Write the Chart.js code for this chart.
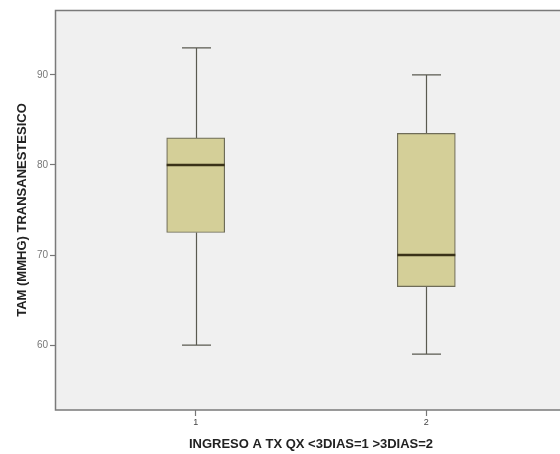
<!DOCTYPE html>
<html>
<head>
<meta charset="utf-8">
<script src="https://cdn.jsdelivr.net/npm/chart.js@4/dist/chart.umd.min.js"></script>
<style>
  html, body { margin: 0; padding: 0; background: #fff; overflow: hidden; }
  #wrap { width: 580px; height: 454px; }
</style>
</head>
<body>
<div id="wrap"><canvas id="chart" width="580" height="454"></canvas></div>
<script>
// Box plot values per group
const groups = ['1', '2'];
const positions = [1, 2];
const mins = [60, 59];
const q1s = [72.5, 66.5];
const medians = [80, 70];
const q3s = [83, 83.5];
const maxs = [93, 90];
const yTicks = [60, 70, 80, 90];

const boxFill = '#d4cf98';
const lineColor = '#5a5a50';

// Plot background and frame
const frame = {
    id: 'frame',
    beforeDraw(chart) {
        const { ctx, chartArea: a } = chart;
        ctx.save();
        ctx.fillStyle = '#f0f0f0';
        ctx.fillRect(a.left, a.top, a.right - a.left, a.bottom - a.top);
        ctx.restore();
    },
    afterDraw(chart) {
        const { ctx, chartArea: a } = chart;
        ctx.save();
        ctx.strokeStyle = '#7a7a7a';
        ctx.lineWidth = 1.5;
        ctx.beginPath();
        ctx.moveTo(a.right, a.top + 0.5);
        ctx.lineTo(a.left + 0.5, a.top + 0.5);
        ctx.lineTo(a.left + 0.5, a.bottom);
        ctx.lineTo(a.right, a.bottom);
        ctx.stroke();
        ctx.restore();
    }
};

// Whiskers, caps and medians drawn through the chart scales
const boxParts = {
    id: 'boxParts',
    beforeDatasetsDraw(chart) {
        const { ctx, scales: { x, y } } = chart;
        ctx.save();
        ctx.strokeStyle = lineColor;
        ctx.lineWidth = 1.2;
        positions.forEach((p, i) => {
            const px = Math.round(x.getPixelForValue(p)) + 0.5;
            const cap = 14.5;
            ctx.beginPath();
            ctx.moveTo(px, y.getPixelForValue(mins[i]));
            ctx.lineTo(px, y.getPixelForValue(q1s[i]));
            ctx.moveTo(px, y.getPixelForValue(q3s[i]));
            ctx.lineTo(px, y.getPixelForValue(maxs[i]));
            ctx.moveTo(px - cap, y.getPixelForValue(mins[i]));
            ctx.lineTo(px + cap, y.getPixelForValue(mins[i]));
            ctx.moveTo(px - cap, y.getPixelForValue(maxs[i]));
            ctx.lineTo(px + cap, y.getPixelForValue(maxs[i]));
            ctx.stroke();
        });
        ctx.restore();
    },
    afterDatasetsDraw(chart) {
        const { ctx, scales: { x, y } } = chart;
        ctx.save();
        ctx.strokeStyle = '#3a3218';
        ctx.lineWidth = 2.5;
        positions.forEach((p, i) => {
            const px = x.getPixelForValue(p);
            const py = y.getPixelForValue(medians[i]);
            ctx.beginPath();
            ctx.moveTo(px - 29, py);
            ctx.lineTo(px + 29, py);
            ctx.stroke();
        });
        ctx.restore();
    }
};

new Chart(document.getElementById('chart'), {
    type: 'bar',
    data: {
        datasets: [{
            data: positions.map((p, i) => ({ x: p, y: [q1s[i], q3s[i]] })),
            backgroundColor: boxFill,
            borderColor: '#6e6c58',
            borderWidth: 1.2,
            borderSkipped: false,
            barThickness: 58
        }]
    },
    options: {
        responsive: false,
        animation: false,
        layout: { padding: { top: 10, right: 13, bottom: 0, left: 0 } },
        plugins: { legend: { display: false }, tooltip: { enabled: false } },
        scales: {
            x: {
                type: 'linear',
                min: 0.39,
                max: 2.61,
                offset: false,
                afterFit: s => { s.height = 44; },
                afterBuildTicks: s => { s.ticks = positions.map(v => ({ value: v })); },
                ticks: {
                    callback: (v, idx) => groups[idx],
                    color: '#444',
                    font: { family: 'Liberation Sans, Arial', size: 9 },
                    padding: 1,
                    maxRotation: 0
                },
                grid: { offset: false, drawOnChartArea: false, tickLength: 6, tickColor: '#777', tickWidth: 1.2 },
                border: { display: false },
                title: {
                    display: true,
                    text: 'INGRESO A TX QX <3DIAS=1 >3DIAS=2',
                    color: '#222',
                    font: { family: 'Liberation Sans, Arial', size: 13, weight: 'bold' },
                    padding: { top: 0, bottom: 2 }
                }
            },
            y: {
                min: 52.8,
                max: 97.2,
                afterFit: s => { s.width = 55; },
                afterBuildTicks: s => { s.ticks = yTicks.map(v => ({ value: v })); },
                ticks: {
                    color: '#777',
                    font: { family: 'Liberation Sans, Arial', size: 10 },
                    padding: 2
                },
                grid: { drawOnChartArea: false, tickLength: 5, tickColor: '#777', tickWidth: 1.2 },
                border: { display: false },
                title: {
                    display: true,
                    text: 'TAM (MMHG) TRANSANESTESICO',
                    color: '#222',
                    font: { family: 'Liberation Sans, Arial', size: 13, weight: 'bold' },
                    padding: { top: 15, bottom: 0 }
                }
            }
        }
    },
    plugins: [frame, boxParts]
});
</script>
</body>
</html>
